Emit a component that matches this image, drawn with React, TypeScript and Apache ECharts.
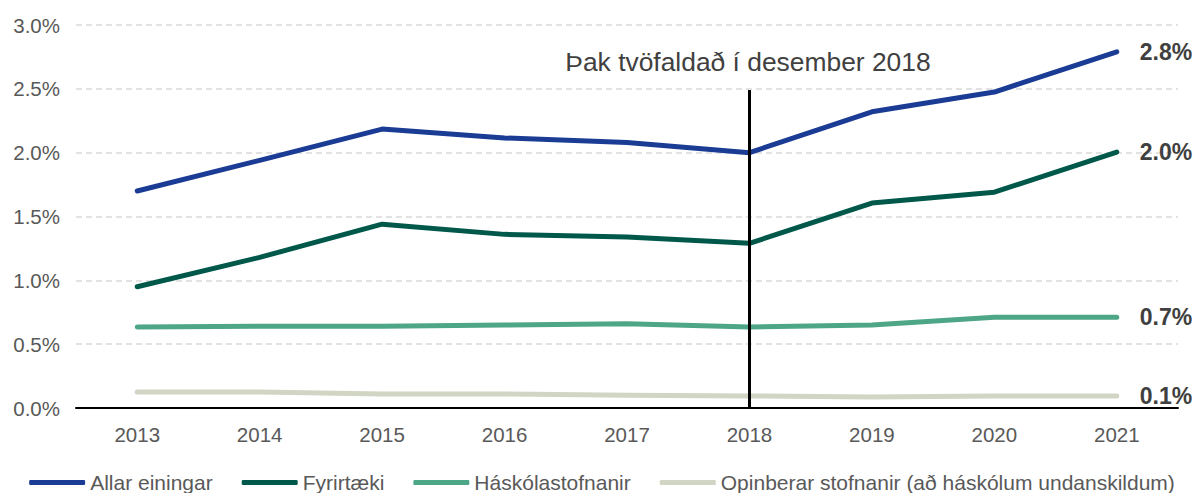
import React, { useEffect, useRef } from "react";
import * as echarts from "echarts";

const years = ["2013", "2014", "2015", "2016", "2017", "2018", "2019", "2020", "2021"];
const allarEiningar = [1.7, 1.94, 2.185, 2.115, 2.08, 2.0, 2.32, 2.475, 2.79];
const fyrirtaeki = [0.95, 1.18, 1.44, 1.36, 1.34, 1.29, 1.605, 1.69, 2.005];
const haskolastofnanir = [0.635, 0.64, 0.64, 0.65, 0.66, 0.635, 0.65, 0.71, 0.71];
const opinberar = [0.125, 0.125, 0.11, 0.11, 0.1, 0.094, 0.086, 0.094, 0.094];
const seriesNames = [
  "Allar einingar",
  "Fyrirtæki",
  "Háskólastofnanir",
  "Opinberar stofnanir (að háskólum undanskildum)",
];
const seriesColors = ["#1B3C94", "#00584A", "#4DA686", "#D1D5C3"];
const markYear = "2018";
const markTop = 2.49;
const annotation = "Þak tvöfaldað í desember 2018";

const FONT = "'Liberation Sans', Arial, sans-serif";

export default function App() {
  const ref = useRef<HTMLDivElement>(null);
  useEffect(() => {
    if (!ref.current) return;
    const chart = echarts.init(ref.current, undefined, { renderer: "svg" });
    const datasets = [allarEiningar, fyrirtaeki, haskolastofnanir, opinberar];
    const series: any[] = datasets.map((d, i) => ({
      name: seriesNames[i],
      type: "line",
      data: d,
      symbol: "none",
      smooth: false,
      z: 2 + (3 - i),
      lineStyle: { width: 5, color: seriesColors[i], cap: "round", join: "round" },
      itemStyle: { color: seriesColors[i] },
      endLabel: {
        show: true,
        distance: 23,
        formatter: (p: any) => Number(p.value).toFixed(1) + "%",
        fontFamily: FONT,
        fontSize: 23,
        fontWeight: "bold",
        color: "#404040",
      },
    }));
    series[0].markLine = {
      silent: true,
      symbol: ["none", "none"],
      z: 10,
      label: { show: false },
      lineStyle: { color: "#000000", width: 3, type: "solid" },
      data: [[{ coord: [markYear, markTop] }, { coord: [markYear, 0] }]],
    };
    chart.setOption({
      animation: false,
      grid: { left: 76, right: 26, top: 25, bottom: 85, containLabel: false },
      legend: {
        top: 472,
        left: "center",
        padding: 0,
        itemGap: 29,
        itemWidth: 56,
        itemHeight: 5,
        icon: "roundRect",
        data: seriesNames,
        textStyle: { fontFamily: FONT, fontSize: 21, color: "#595959" },
      },
      xAxis: {
        type: "category",
        data: years,
        boundaryGap: true,
        axisLine: { show: true, lineStyle: { color: "#000000", width: 2 } },
        axisTick: { show: false },
        axisLabel: { margin: 16, fontFamily: FONT, fontSize: 20.5, color: "#595959" },
        splitLine: { show: false },
      },
      yAxis: {
        type: "value",
        min: 0,
        max: 3,
        interval: 0.5,
        axisLine: { show: false },
        axisTick: { show: false },
        axisLabel: {
          margin: 16,
          fontFamily: FONT,
          fontSize: 20.5,
          color: "#595959",
          formatter: (v: number) => v.toFixed(1) + "%",
        },
        splitLine: { show: true, lineStyle: { color: "#D9D9D9", width: 1.5, type: [6, 4] } },
      },
      graphic: [
        {
          type: "text",
          x: 748,
          y: 62,
          style: {
            text: annotation,
            fontFamily: FONT,
            fontSize: 26.4,
            fill: "#404040",
            textAlign: "center",
            textVerticalAlign: "middle",
          },
        },
      ],
      series,
    });
    return () => chart.dispose();
  }, []);
  return (
    <div
      ref={ref}
      style={{ position: "fixed", left: 0, top: 0, width: 1204, height: 493, background: "#fff" }}
    />
  );
}
